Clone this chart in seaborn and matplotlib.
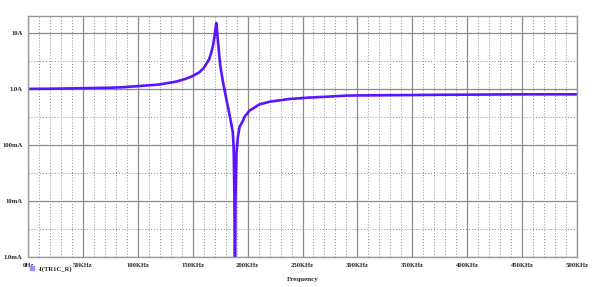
import numpy as np
import pandas as pd
import matplotlib
matplotlib.use("Agg")
import matplotlib.pyplot as plt
import seaborn as sns
from matplotlib.lines import Line2D
from matplotlib.ticker import FixedLocator, NullFormatter

# ---- data ----
freq_khz = [0, 25, 50, 75, 86, 100, 120, 126, 135, 144, 150, 156, 160, 162, 165,
            167, 168.5, 170, 171, 171.5, 173, 175, 177.5, 180.5, 183.5, 186.5,
            187.3, 188.0, 188.5, 189.0, 189.8, 191.2, 192.7, 195.7, 197.3, 201.8,
            210.9, 220, 238, 256, 274.5, 291, 320, 344, 375, 404.5, 450, 500]
current_a = [1.0, 1.01, 1.03, 1.05, 1.07, 1.12, 1.2, 1.26, 1.35, 1.52, 1.7, 1.98,
             2.35, 2.7, 3.4, 4.5, 6.0, 9.0, 13.0, 15.0, 7.0, 2.7, 1.35, 0.68,
             0.35, 0.17, 0.09, 0.012, 0.0002, 0.012, 0.07, 0.14, 0.21, 0.27,
             0.32, 0.41, 0.53, 0.59, 0.66, 0.70, 0.73, 0.76, 0.77, 0.775, 0.785,
             0.79, 0.80, 0.80]

x_ticks_khz = [0, 50, 100, 150, 200, 250, 300, 350, 400, 450, 500]
x_tick_labels = ["0Hz", "50KHz", "100KHz", "150KHz", "200KHz", "250KHz",
                 "300KHz", "350KHz", "400KHz", "450KHz", "500KHz"]
y_ticks = [1e-3, 1e-2, 1e-1, 1.0, 10.0]
y_tick_labels = ["1.0mA", "10mA", "100mA", "1.0A", "10A"]
series_name = "-I(TR1C_R)"
x_label = "Frequency"

df = pd.DataFrame({"f": np.array(freq_khz) * 1e3, "I": current_a})

sns.set_style("white")
plt.rcParams["font.family"] = ["Liberation Serif", "DejaVu Serif"]

fig = plt.figure(figsize=(6.0, 2.87), dpi=100)
ax = fig.add_axes([28 / 600, 1 - 257 / 287, 549 / 600, 241 / 287])

line_color = "#5a14ff"
sns.lineplot(data=df, x="f", y="I", ax=ax, color=line_color, linewidth=1.9,
             legend=False)

ax.set_yscale("log")
ax.set_xlim(0, 500e3)
ax.set_ylim(1e-3, 20)

ax.xaxis.set_major_locator(FixedLocator([v * 1e3 for v in x_ticks_khz]))
ax.set_xticklabels(x_tick_labels)
ax.xaxis.set_minor_locator(FixedLocator([v * 1e3 for v in range(0, 501, 10)
                                         if v % 50 != 0]))
ax.yaxis.set_major_locator(FixedLocator(y_ticks))
ax.set_yticklabels(y_tick_labels)
ax.yaxis.set_minor_locator(FixedLocator([10 ** e for e in (-2.5, -1.5, -0.5, 0.5)]))
ax.yaxis.set_minor_formatter(NullFormatter())

ax.grid(which="major", color="#8c8c8c", linewidth=0.9, linestyle="-")
ax.grid(which="minor", color="#8c8c8c", linewidth=0.7, linestyle=(0, (1, 2)))
ax.set_axisbelow(True)

for s in ax.spines.values():
    s.set_color("#9a9a9a")
    s.set_linewidth(1.0)

ax.tick_params(axis="both", which="major", labelsize=4.8, length=2,
               color="#555555", pad=2)
ax.tick_params(axis="both", which="minor", length=1.2, color="#555555")
for lbl in ax.get_xticklabels() + ax.get_yticklabels():
    lbl.set_fontweight("bold")

ax.set_xlabel(x_label, fontsize=5, fontweight="bold", labelpad=7)
ax.set_ylabel("")

handle = Line2D([], [], marker="s", linestyle="none", markersize=2.2,
                markerfacecolor="#a58cff", markeredgecolor="#a58cff")
leg = fig.legend([handle], [series_name], loc="center left",
                 bbox_to_anchor=(0.045, 0.063), frameon=False,
                 prop={"size": 4.8, "weight": "bold"}, handlelength=0.6,
                 handletextpad=0.5, borderpad=0)

fig.savefig("out.png", dpi=100)
